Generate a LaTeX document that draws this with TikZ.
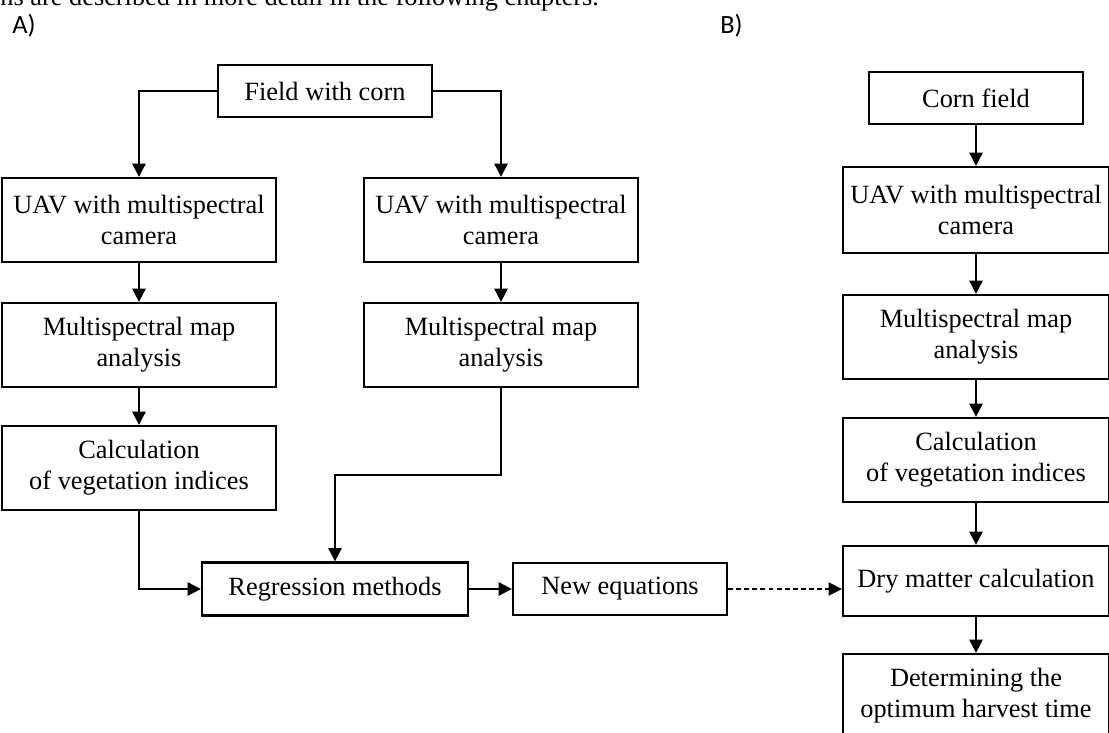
\documentclass[tikz,border=0pt]{standalone}
\usepackage{fontspec}
\setmainfont{Liberation Serif}
\newfontfamily\labelfont{Carlito}
\usepackage{tikz}
\usetikzlibrary{positioning,calc,arrows.meta}

\begin{document}
\begin{tikzpicture}[x=0.02cm, y=-0.02cm, stage/.style={draw, line width=1.3pt, align=center, inner sep=2pt, minimum width=5.48cm, minimum height=1.68cm, font=\fontsize{15}{17.6}\selectfont}, small/.style={stage, minimum width=4.28cm, minimum height=1.04cm}, arrow/.style={-{Triangle[width=7.5pt,length=7.5pt]}, line width=1.1pt}, dasharrow/.style={arrow, line width=0.7pt, dash pattern=on 2.8pt off 1.8pt}]
\useasboundingbox (0,0) rectangle (1109,733);
\clip (0,0) rectangle (1109,733);
\node[anchor=base west, inner sep=0pt, font=\fontsize{15}{17.6}\selectfont] (intro) at (0,6) {ns are described in more detail in the following chapters.};
\node[anchor=base west, inner sep=0pt, font=\labelfont\fontsize{15}{18}\selectfont] (partA) at (12,34) {A)};
\node[anchor=base west, inner sep=0pt, font=\labelfont\fontsize{15}{18}\selectfont] (partB) at (720,34) {B)};
% A) two branches
\node[small] (field) at (325,91) {Field with corn};
\node[stage] (uavA) at (139,220) {UAV with multispectral\\camera};
\node[stage] (uavB) at (501,220) {UAV with multispectral\\camera};
\draw[arrow] (field.west) -| (uavA.north);
\draw[arrow] (field.east) -| (uavB.north);
\node[stage] (mapA) at (139,345) {Multispectral map\\analysis};
\draw[arrow] (uavA) -- (mapA);
\node[stage] (mapB) at (501,345) {Multispectral map\\analysis};
\draw[arrow] (uavB) -- (mapB);
\node[stage] (indA) at (139,468) {Calculation\\of vegetation indices};
\draw[arrow] (mapA) -- (indA);
\node[stage, minimum width=5.32cm, minimum height=1.06cm] (regr) at (335,589) {Regression methods};
\draw[arrow] (indA.south) |- (regr.west);
\draw[arrow] (mapB.south) |- ($(mapB.south)!0.5!(regr.north)$) -| (regr.north);
\node[small] (neweq) at (620,589) {New equations};
\draw[arrow] (regr) -- (neweq);
% B) one branch
\node[small] (corn) at (976,98) {Corn field};
\node[stage, minimum width=5.32cm, minimum height=1.72cm] (uavC) at (976,210) {UAV with multispectral\\camera};
\draw[arrow] (corn) -- (uavC);
\node[stage, minimum width=5.32cm] (mapC) at (976,337) {Multispectral map\\analysis};
\draw[arrow] (uavC) -- (mapC);
\node[stage, minimum width=5.32cm] (indC) at (976,460) {Calculation\\of vegetation indices};
\draw[arrow] (mapC) -- (indC);
\node[stage, minimum width=5.32cm, minimum height=1.4cm] (dry) at (976,581) {Dry matter calculation};
\draw[arrow] (indC) -- (dry);
\node[stage, minimum width=5.32cm] (harvest) at (976,696) {Determining the\\optimum harvest time};
\draw[arrow] (dry) -- (harvest);
\draw[dasharrow] (neweq.east) -- (neweq.east -| dry.west);
\end{tikzpicture}
\end{document}
